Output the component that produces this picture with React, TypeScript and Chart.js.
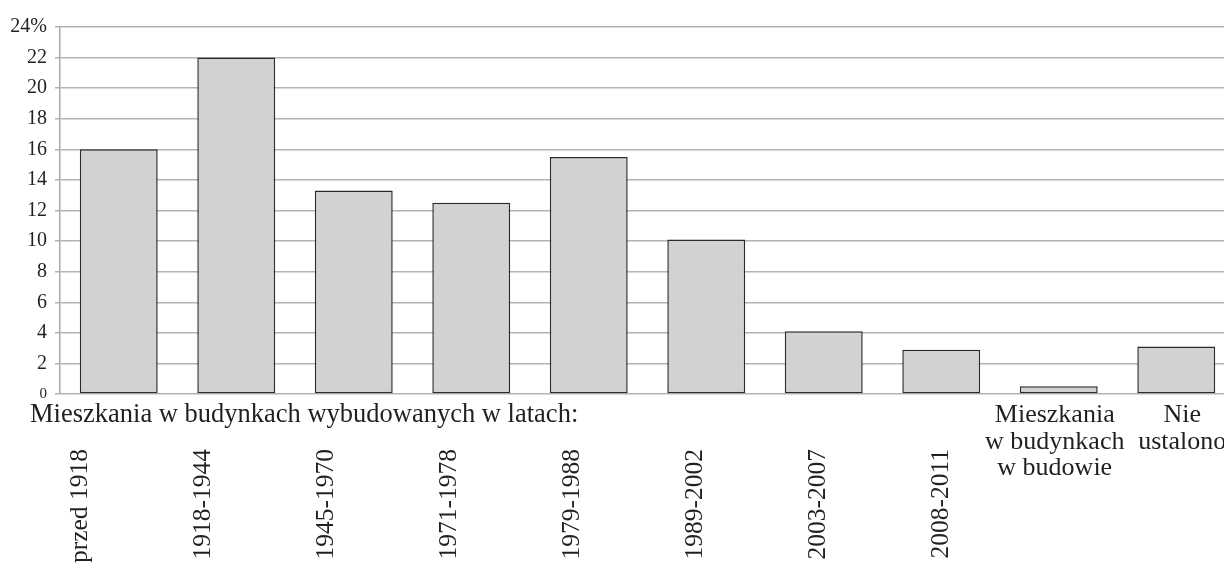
import React, { useEffect, useRef } from "react";
import { Chart, registerables } from "chart.js";

Chart.register(...registerables);

const categories: string[][] = [
  ["przed 1918"],
  ["1918-1944"],
  ["1945-1970"],
  ["1971-1978"],
  ["1979-1988"],
  ["1989-2002"],
  ["2003-2007"],
  ["2008-2011"],
  ["Mieszkania", "w budynkach", "w budowie"],
  ["Nie", "ustalono"],
];
const values: number[] = [16, 22, 13.3, 12.5, 15.5, 10.1, 4.1, 2.9, 0.5, 3.1];
const rotatedCount = 8;
const groupTitle = "Mieszkania w budynkach wybudowanych w latach:";
const yMax = 24;
const yStep = 2;

const FONT = "'Liberation Serif', 'Times New Roman', serif";

const labelPlugin = {
  id: "customLabels",
  afterDraw(chart: any) {
    const ctx = chart.ctx as CanvasRenderingContext2D;
    const xs = chart.scales.x;
    ctx.save();
    ctx.fillStyle = "#231f20";
    ctx.font = `26.5px ${FONT}`;
    ctx.textAlign = "left";
    ctx.textBaseline = "alphabetic";
    ctx.fillText(groupTitle, 30, 422);
    categories.forEach((lines, i) => {
      const cx = xs.getPixelForValue(i);
      if (i < rotatedCount) {
        ctx.save();
        ctx.font = `25.5px ${FONT}`;
        const x = cx - 38 + 5.4 * i;
        ctx.translate(x, 449);
        ctx.rotate(-Math.PI / 2);
        ctx.textAlign = "right";
        ctx.textBaseline = "middle";
        ctx.fillText(lines[0], 0, 0);
        ctx.restore();
      } else {
        ctx.font = `26px ${FONT}`;
        ctx.textAlign = "center";
        ctx.textBaseline = "alphabetic";
        const off = i === rotatedCount ? -4 : 6;
        lines.forEach((ln, k) => {
          ctx.fillText(ln, cx + off, 422 + k * 26.5);
        });
      }
    });
    ctx.restore();
  },
};

export default function App() {
  const ref = useRef<HTMLCanvasElement>(null);
  useEffect(() => {
    if (!ref.current) return;
    const chart = new Chart(ref.current, {
      type: "bar",
      data: {
        labels: categories.map((c) => c.join(" ")),
        datasets: [
          {
            data: values,
            backgroundColor: "#d1d2d4",
            borderColor: "#2b2b2b",
            borderWidth: 1.5,
            borderSkipped: false,
            barPercentage: 0.663,
            categoryPercentage: 1,
          },
        ],
      },
      options: {
        responsive: false,
        animation: false,
        events: [],
        layout: { padding: { top: 27, bottom: 169, left: 0, right: 5 } },
        plugins: { legend: { display: false }, tooltip: { enabled: false } },
        scales: {
          x: {
            display: false,
            grid: { display: false },
          },
          y: {
            min: 0,
            max: yMax,
            afterFit: (s: any) => {
              s.width = 60;
            },
            border: { display: true, color: "#a7a9ac", width: 1.5 },
            grid: {
              color: "#b1b3b6",
              lineWidth: 1.5,
              drawTicks: true,
              tickLength: 5,
              tickColor: "#b1b3b6",
            },
            ticks: {
              stepSize: yStep,
              padding: 8,
              color: "#231f20",
              font: (c: any) => ({
                family: FONT,
                size: c.tick && c.tick.value === 0 ? 15 : 20,
              }),
              callback: (v: any) => (Number(v) === yMax ? `${v}%` : `${v}`),
            },
          },
        },
      },
      plugins: [labelPlugin],
    });
    return () => chart.destroy();
  }, []);
  return (
    <div
      style={{
        position: "fixed",
        left: 0,
        top: 0,
        width: 1224,
        height: 563,
        overflow: "hidden",
        background: "#fff",
      }}
    >
      <canvas ref={ref} width={1240} height={563} style={{ display: "block" }} />
    </div>
  );
}
